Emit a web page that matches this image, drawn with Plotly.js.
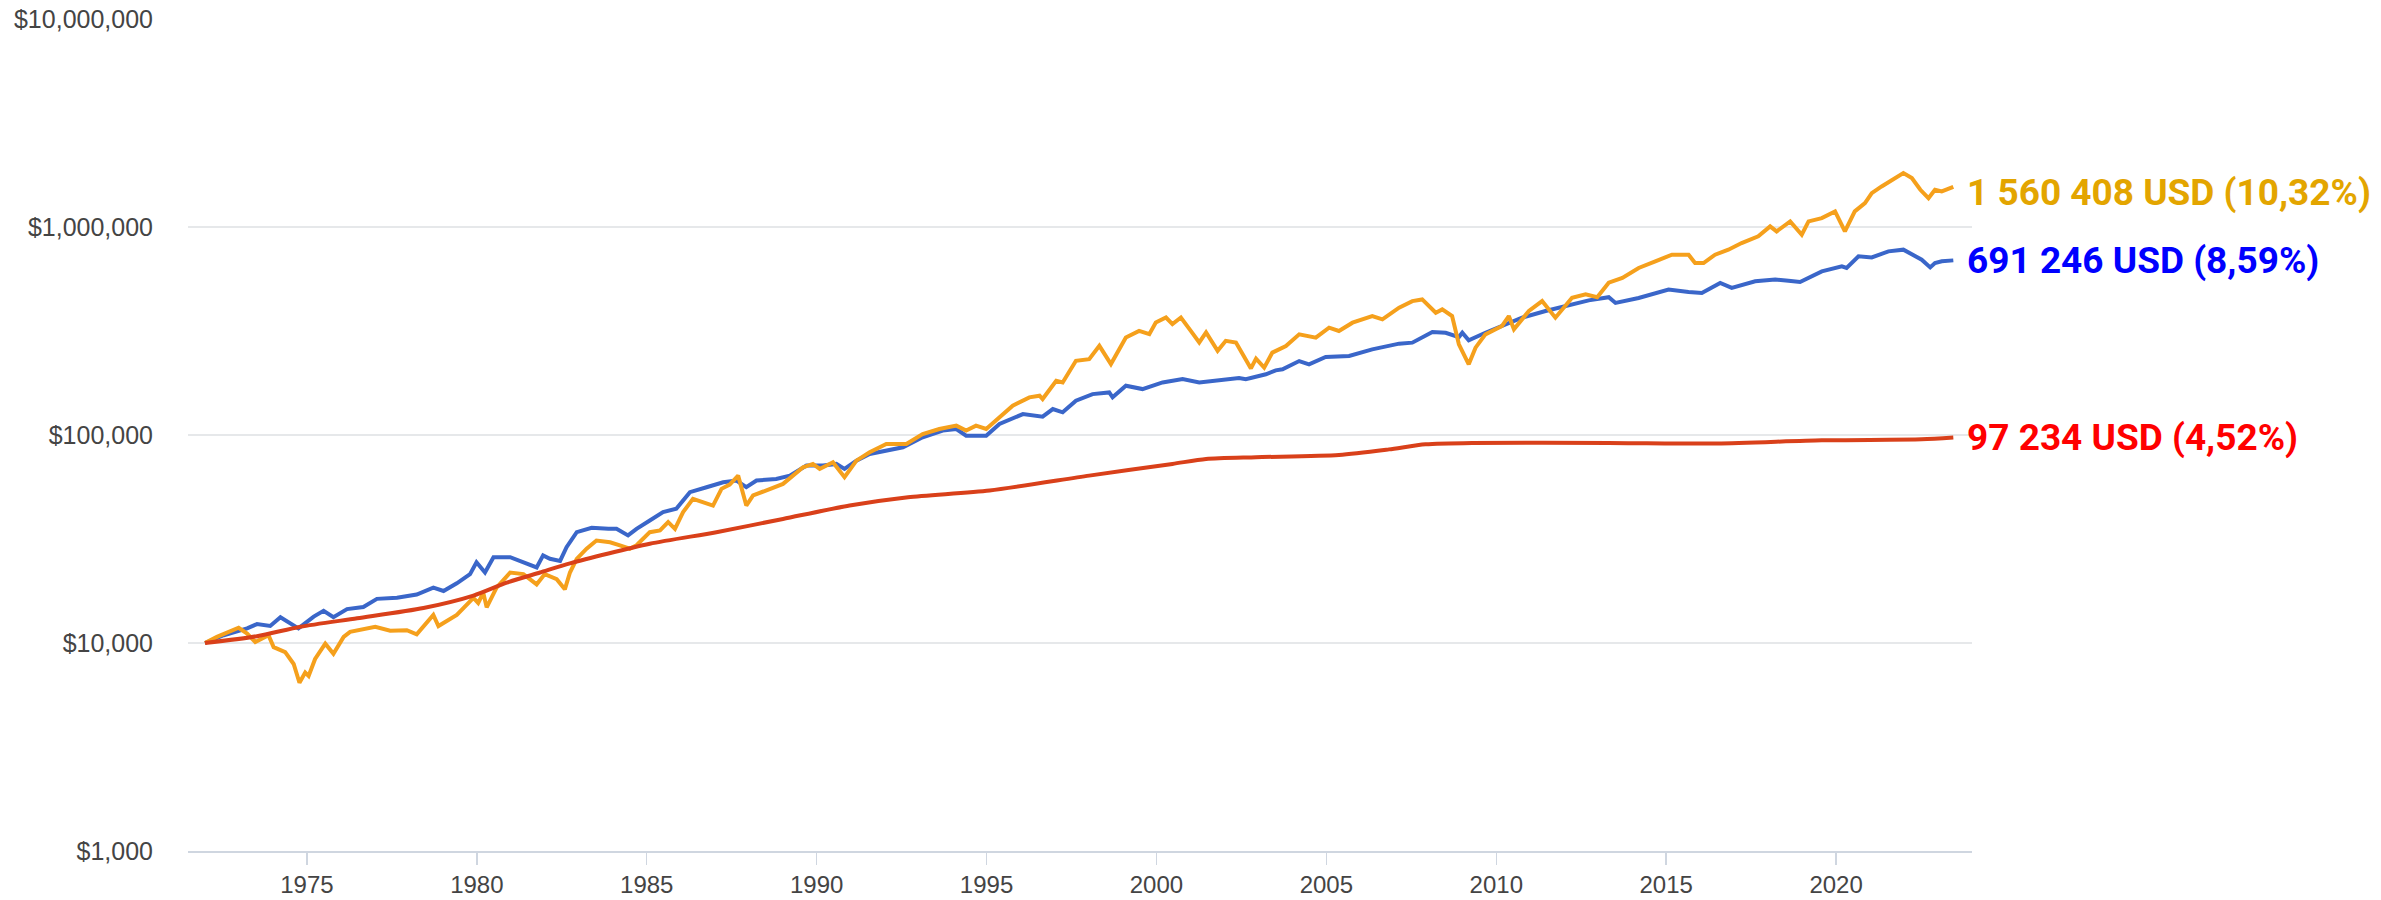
<!DOCTYPE html>
<html>
<head>
<meta charset="utf-8">
<script src="https://cdn.plot.ly/plotly-3.0.1.min.js"></script>
<style>html,body{margin:0;padding:0;background:#fff;}#chart{width:2381px;height:900px;}</style>
</head>
<body>
<div id="chart"></div>
<script>
// ---- Data ----
const blueYears = [1972.0,1972.55,1973.24,1973.53,1973.92,1974.22,1974.75,1975.2,1975.49,1975.78,1976.18,1976.66,1977.06,1977.65,1978.23,1978.72,1979.02,1979.41,1979.8,1979.99,1980.24,1980.49,1980.98,1981.27,1981.76,1981.95,1982.15,1982.45,1982.64,1982.94,1983.38,1983.87,1984.11,1984.45,1984.7,1985.09,1985.48,1985.87,1986.27,1986.76,1987.25,1987.64,1987.93,1988.23,1988.81,1989.21,1989.7,1990.19,1990.58,1990.82,1991.17,1991.56,1992.15,1992.54,1993.12,1993.71,1994.11,1994.4,1994.99,1995.38,1996.07,1996.65,1996.95,1997.24,1997.63,1998.12,1998.61,1998.71,1999.1,1999.59,2000.18,2000.77,2001.26,2001.94,2002.43,2002.63,2002.93,2003.22,2003.51,2003.71,2004.2,2004.49,2004.98,2005.67,2006.35,2007.14,2007.53,2008.12,2008.51,2008.9,2009.0,2009.19,2009.68,2010.17,2010.76,2011.45,2012.04,2012.72,2013.31,2013.51,2014.19,2015.07,2015.66,2016.05,2016.59,2016.93,2017.62,2018.21,2018.6,2018.94,2019.58,2020.17,2020.31,2020.66,2021.05,2021.54,2021.98,2022.28,2022.52,2022.77,2022.91,2023.11,2023.45];
const blueValues = [10000,10900,11750,12330,12070,13300,11750,13400,14290,13300,14550,14890,16300,16490,17110,18450,17780,19370,21440,24450,21830,25860,25860,24900,23100,26370,25400,24800,28900,34100,35800,35400,35400,32900,35400,38800,42600,44200,53100,56100,59300,60400,56100,60400,61500,63800,71300,71300,72600,68700,75300,81100,85000,87300,97500,105000,106900,99300,99300,113000,126000,122500,133300,128500,146200,157300,160300,151700,172600,166300,179000,185800,179000,183700,188000,185400,190000,195800,204600,207000,226800,218800,237100,239800,258200,274900,278000,312600,310200,295800,310200,285100,310200,334400,366500,394700,417200,444000,460000,431400,456000,500000,487500,482000,538300,509300,548300,558500,552200,544500,612300,647100,635300,722600,714500,763800,778200,736200,696600,639700,671400,684000,691246];

const orangeYears = [1972.0,1972.35,1972.99,1973.24,1973.48,1973.68,1973.87,1974.02,1974.36,1974.61,1974.78,1974.95,1975.05,1975.24,1975.54,1975.78,1976.08,1976.27,1977.01,1977.45,1977.94,1978.23,1978.72,1978.87,1979.41,1979.9,1980.04,1980.19,1980.29,1980.58,1980.98,1981.37,1981.76,1982.0,1982.35,1982.59,1982.74,1982.94,1983.23,1983.52,1983.92,1984.21,1984.5,1984.7,1985.09,1985.39,1985.63,1985.83,1986.07,1986.36,1986.76,1986.95,1987.2,1987.44,1987.69,1987.93,1988.13,1988.52,1989.01,1989.6,1989.89,1990.09,1990.48,1990.82,1991.17,1991.56,1992.05,1992.64,1993.12,1993.61,1994.11,1994.4,1994.69,1994.99,1995.38,1995.77,1996.26,1996.56,1996.65,1997.05,1997.24,1997.63,1998.02,1998.32,1998.66,1999.1,1999.49,1999.79,1999.98,2000.28,2000.47,2000.72,2001.01,2001.26,2001.46,2001.8,2002.04,2002.34,2002.78,2002.93,2003.17,2003.41,2003.81,2004.2,2004.69,2005.08,2005.37,2005.77,2006.35,2006.65,2007.14,2007.53,2007.82,2008.22,2008.41,2008.7,2008.9,2009.19,2009.39,2009.68,2010.17,2010.37,2010.52,2010.96,2011.35,2011.74,2012.23,2012.63,2012.97,2013.31,2013.71,2014.19,2014.68,2015.17,2015.66,2015.85,2016.1,2016.44,2016.83,2017.22,2017.71,2018.06,2018.25,2018.65,2018.99,2019.19,2019.58,2019.97,2020.26,2020.55,2020.85,2021.05,2021.34,2021.64,2021.98,2022.23,2022.48,2022.72,2022.91,2023.11,2023.45];
const orangeValues = [10000,10700,11840,11110,10110,10500,10900,9550,9040,7930,6440,7210,6950,8380,9930,8870,10700,11320,11970,11450,11530,11020,13650,12070,13650,16480,15570,17420,14840,18450,21820,21440,19140,21440,20270,18110,21820,25400,28400,31100,30500,29500,28400,29500,34100,34800,38100,35400,42600,49300,46700,45800,55100,57800,63800,45800,51200,54100,58200,70000,72600,68700,74000,62700,75300,82600,90600,90600,101000,106900,110900,105000,110900,106900,121600,138300,151700,154600,148900,182400,179000,227500,231700,268400,219300,294400,316800,305500,347300,367200,341200,367200,316800,278600,311200,254100,283800,278600,209000,233000,210900,249000,267900,304800,293800,328200,316300,346800,373300,359700,409300,440400,448700,387300,401800,373300,272900,218700,263100,304800,334400,373300,322300,394700,440400,366500,457100,474500,460000,540000,568700,635300,684000,736200,736200,671400,671400,736200,778200,837500,901500,1007000,952500,1064000,918300,1064000,1104000,1189000,952500,1189000,1303000,1455000,1567000,1687000,1817000,1718000,1510000,1377000,1510000,1483000,1560408];

const redYears = [1972.0,1973.53,1974.81,1976.48,1978.43,1979.9,1980.88,1981.86,1982.74,1985.09,1987.05,1989.01,1990.97,1992.69,1995.09,1998.02,2000.47,2001.46,2002.93,2005.37,2006.84,2007.92,2009.29,2013.31,2016.5,2019.58,2022.52,2023.45];
const redValues = [10000,10780,11970,13150,14730,16900,19500,21820,24150,30000,34100,39500,45800,50200,54100,63800,72600,76700,78200,80200,85300,90200,91600,91600,91000,94300,95300,97234];

const endLabels = ["1 560 408 USD (10,32%)", "691 246 USD (8,59%)", "97 234 USD (4,52%)"];

const xTickVals = [1975,1980,1985,1990,1995,2000,2005,2010,2015,2020];
const xTickText = ["1975","1980","1985","1990","1995","2000","2005","2010","2015","2020"];
const yTickVals = [1000,10000,100000,1000000,10000000];
const yTickText = ["$1,000","$10,000","$100,000","$1,000,000","$10,000,000"];

// ---- Chart ----
const lineW = 4;
const traces = [
  {x: blueYears, y: blueValues, type:'scatter', mode:'lines', line:{color:'#3A66C9', width:lineW}, hoverinfo:'skip'},
  {x: orangeYears, y: orangeValues, type:'scatter', mode:'lines', line:{color:'#F5A01C', width:lineW}, hoverinfo:'skip'},
  {x: redYears, y: redValues, type:'scatter', mode:'lines', line:{color:'#D9401A', width:lineW, shape:'spline', smoothing:0.7}, hoverinfo:'skip'}
];

function endAnn(xs, ys, text, color, yshift) {
  return {
    x: xs[xs.length-1], y: Math.log10(ys[ys.length-1]), xref:'x', yref:'y',
    text: '<b>' + text + '</b>', showarrow:false, xanchor:'left', yanchor:'middle',
    xshift: 12, yshift: yshift, font:{family:'Roboto', size:37, color: color}
  };
}

const layout = {
  width: 2381, height: 900,
  margin: {l:188, r:409, t:19, b:49, pad:0},
  paper_bgcolor:'#ffffff', plot_bgcolor:'#ffffff',
  showlegend:false,
  font:{family:'Arial, Liberation Sans, sans-serif', size:24, color:'#444'},
  xaxis: {
    type:'linear', range:[1971.5, 2024.0],
    tickvals: xTickVals, ticktext: xTickText,
    showgrid:false, zeroline:false,
    showline:true, linecolor:'#cfd6e0', linewidth:1.5,
    ticks:'outside', ticklen:12, tickcolor:'#cfd6e0', tickwidth:1.5,
    tickfont:{size:24, color:'#444'}
  },
  yaxis: {
    type:'log', range:[3, 7.0001],
    tickvals: yTickVals, ticktext: yTickText,
    showgrid:true, gridcolor:'#e6e8ea', gridwidth:1.5,
    zeroline:false, showline:false,
    ticks:'outside', ticklen:29, tickcolor:'rgba(0,0,0,0)',
    tickfont:{size:25, color:'#444'}
  },
  annotations: [
    endAnn(orangeYears, orangeValues, endLabels[0], '#E3A500', -6),
    endAnn(blueYears, blueValues, endLabels[1], '#0000FF', 0),
    endAnn(redYears, redValues, endLabels[2], '#FF0000', 0)
  ]
};

Plotly.newPlot('chart', traces, layout, {displayModeBar:false, staticPlot:true});
</script>
</body>
</html>
